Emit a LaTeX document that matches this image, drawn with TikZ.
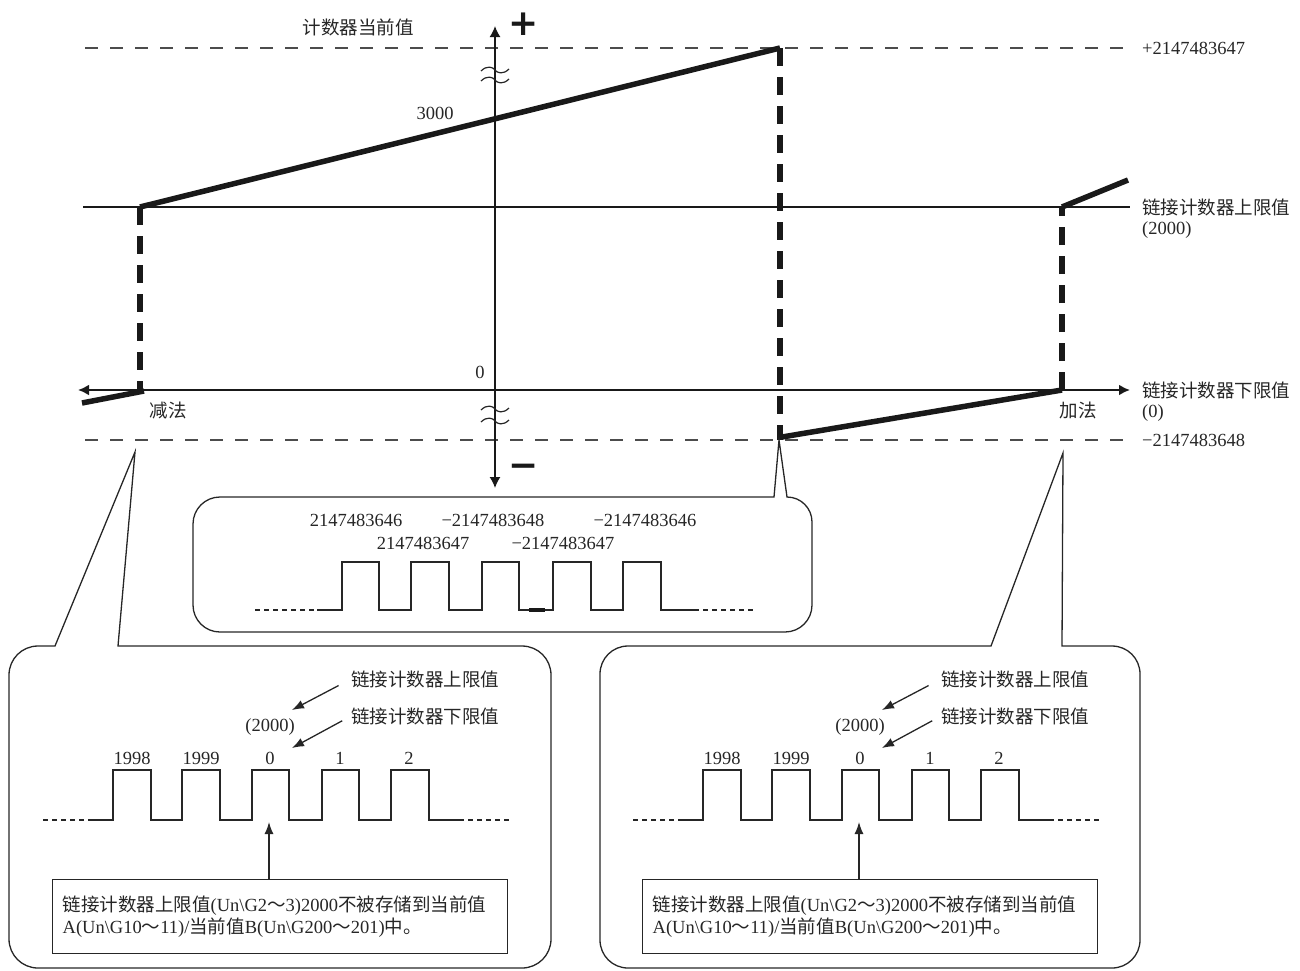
\documentclass[tikz,border=0pt]{standalone}
\usepackage{fontspec}
\setmainfont{Liberation Serif}
\newfontfamily\cjk{Noto Sans CJK SC}
\newfontfamily\djv{DejaVu Sans}
\usetikzlibrary{arrows.meta}
\begin{document}
\begin{tikzpicture}[x=1pt,y=-1pt,
  lbl/.style={inner sep=0pt, font=\fontsize{18.5}{22}\selectfont, text=black!85},
  thinl/.style={line width=1.3pt, draw=black!85},
  axisl/.style={line width=2pt, draw=black!90},
  heavyl/.style={line width=5.5pt, draw=black!90},
  heavyd/.style={line width=5.5pt, draw=black!90, dash pattern=on 18pt off 11pt},
  greyd/.style={line width=1.6pt, draw=black!70, dash pattern=on 13pt off 12pt},
  smalld/.style={line width=1.3pt, draw=black!85, dash pattern=on 5pt off 4pt},
  arr/.style={-{Latex[length=12pt,width=9pt]}},
  bigarr/.style={{Latex[length=11pt,width=11pt]}-{Latex[length=11pt,width=11pt]}},
  txtbox/.style={draw=black!85, line width=1.3pt, anchor=north west, minimum width=455pt,
    minimum height=74pt, text width=435pt, inner xsep=10pt, inner ysep=0pt, align=left,
    font=\fontsize{18.5}{22}\selectfont, text=black!85},
  signs/.style={inner sep=0pt, font=\djv\bfseries\fontsize{36}{36}\selectfont, text=black!90, anchor=base},
]
\useasboundingbox (0,0) rectangle (1300,970);

% ---------- reference dashed lines ----------
\coordinate (tdl) at (85,48);  \coordinate (tdr) at (1130,48);
\coordinate (bdl) at (85,440); \coordinate (bdr) at (1130,440);
\draw[greyd] (tdl) -- (tdr);
\draw[greyd] (bdl) -- (bdr);

% ---------- axes ----------
\coordinate (vtop) at (495,26); \coordinate (vbot) at (495,488);
\draw[line width=1.5pt, draw=black!90, bigarr] (vbot) -- (vtop);
\coordinate (hl) at (78,390); \coordinate (hr) at (1130,390);
\draw[axisl, line width=2.4pt, bigarr] (hl) -- (hr);
\coordinate (ul) at (83,207); \coordinate (ur) at (1130,207);
\draw[axisl] (ul) -- (ur);

% break marks
\foreach \yy in {70,80,409,421}{
  \draw[line width=1.2pt, draw=black!85] (481,\yy+1) .. controls (487,\yy-5) and (493,\yy-3) .. (495,\yy)
     .. controls (497,\yy+3) and (503,\yy+5) .. (509,\yy-1);
}

% ---------- heavy count line ----------
\coordinate (A) at (140,207);
\coordinate (B) at (780,48);
\coordinate (C) at (780,440);
\coordinate (D) at (782,437);
\coordinate (E) at (1062,390);
\coordinate (F) at (1062,207);
\coordinate (G) at (1128,180);
\coordinate (H) at (140,390);
\coordinate (L1) at (144,391);
\coordinate (L2) at (82,403);
\draw[heavyl] (A) -- (B);
\draw[heavyd] (B) -- (C);
\draw[heavyl] (D) -- (E);
\draw[heavyd] (E) -- (F);
\draw[heavyl] (F) -- (G);
\draw[heavyd] (A) -- (H);
\draw[heavyl] (L1) -- (L2);

% ---------- main labels ----------
\node[lbl, anchor=east] (cnt) at (414,27) {\cjk 计数器当前值};
\node[signs] (plus) at (524,35) {+};
\node[signs] (minus) at (524,477) {−};
\node[lbl] (v3000) at (435,113) {3000};
\node[lbl] (vzero) at (480,372) {0};
\node[lbl, anchor=west] (vmax) at (1142,48) {+2147483647};
\node[lbl, anchor=west] (uplim) at (1142,207) {\cjk 链接计数器上限值};
\node[lbl, anchor=west] (uplimv) at (1142,230) {(2000)};
\node[lbl, anchor=west] (lolim) at (1142,390) {\cjk 链接计数器下限值};
\node[lbl, anchor=west] (lolimv) at (1142,413) {(0)};
\node[lbl, anchor=west] (vmin) at (1142,440) {−2147483648};
\node[lbl] (sub) at (168,410) {\cjk 减法};
\node[lbl] (add) at (1078,410) {\cjk 加法};

% ---------- middle callout ----------
\draw[thinl] (774,497) -- (220,497) to[out=180,in=90] (193,524) -- (193,605)
  to[out=-90,in=180] (220,632) -- (785,632) to[out=0,in=-90] (812,605) -- (812,522)
  to[out=90,in=0] (787,497) -- (779,440) -- cycle;
\node[lbl] (m1) at (356,520) {2147483646};
\node[lbl] (m2) at (493,520) {−2147483648};
\node[lbl] (m3) at (645,520) {−2147483646};
\node[lbl] (m4) at (423,543) {2147483647};
\node[lbl] (m5) at (563,543) {−2147483647};
\draw[smalld] (255,610) -- (317,610);
\draw[thinl] (317,610) -- (342,610) -- (342,562) -- (379,562) -- (379,610) -- (411,610)
  -- (411,562) -- (449,562) -- (449,610) -- (482,610) -- (482,562) -- (519,562) -- (519,610)
  -- (553,610) -- (553,562) -- (591,562) -- (591,610) -- (623,610) -- (623,562) -- (661,562)
  -- (661,610) -- (694,610);
\draw[smalld] (694,610) -- (755,610);
\draw[line width=3.5pt, draw=black!90] (529,610) -- (545,610);

% ---------- left callout ----------
\draw[thinl] (55,646) -- (38,646) to[out=180,in=90] (9,675) -- (9,939)
  to[out=-90,in=180] (38,968) -- (522,968) to[out=0,in=-90] (551,939) -- (551,675)
  to[out=90,in=0] (522,646) -- (118,646) -- (135,452) -- cycle;
\node[lbl, anchor=west] (lup) at (351,679) {\cjk 链接计数器上限值};
\node[lbl, anchor=west] (llo) at (351,716) {\cjk 链接计数器下限值};
\coordinate (lupt) at (292,710);
\coordinate (llot) at (292,748);
\draw[thinl, arr, shorten <=14pt] (lup.west) -- (lupt);
\draw[thinl, arr, shorten <=10pt] (llo.west) -- (llot);
\node[lbl] (l2000) at (270,727) {(2000)};
\node[lbl] (la) at (132,758) {1998};
\node[lbl] (lb) at (201,758) {1999};
\node[lbl] (lc) at (270,758) {0};
\node[lbl] (ld) at (340,758) {1};
\node[lbl] (le) at (409,758) {2};
\draw[smalld] (43,820) -- (93,820);
\draw[thinl] (93,820) -- (113,820) -- (113,770) -- (151,770) -- (151,820) -- (182,820)
  -- (182,770) -- (220,770) -- (220,820) -- (252,820) -- (252,770) -- (289,770) -- (289,820)
  -- (322,820) -- (322,770) -- (359,770) -- (359,820) -- (391,820) -- (391,770) -- (429,770)
  -- (429,820) -- (459,820);
\draw[smalld] (459,820) -- (512,820);
\node[txtbox] (lbox) at (52,879) {{\cjk 链接计数器上限值}(Un\textbackslash G2{\cjk ～}3)2000{\cjk 不被存储到当前值}\\A(Un\textbackslash G10{\cjk ～}11)/{\cjk 当前值}B(Un\textbackslash G200{\cjk ～}201){\cjk 中。}};
\coordinate (lupa) at (269,822);
\draw[thinl, arr] (lbox.north -| lupa) -- (lupa);

% ---------- right callout ----------
\draw[thinl] (991,646) -- (628,646) to[out=180,in=90] (600,674) -- (600,940)
  to[out=-90,in=180] (628,968) -- (1112,968) to[out=0,in=-90] (1140,940) -- (1140,674)
  to[out=90,in=0] (1112,646) -- (1062,646) -- (1063,453) -- cycle;
\node[lbl, anchor=west] (rup) at (941,679) {\cjk 链接计数器上限值};
\node[lbl, anchor=west] (rlo) at (941,716) {\cjk 链接计数器下限值};
\coordinate (rupt) at (882,710);
\coordinate (rlot) at (882,748);
\draw[thinl, arr, shorten <=14pt] (rup.west) -- (rupt);
\draw[thinl, arr, shorten <=10pt] (rlo.west) -- (rlot);
\node[lbl] (r2000) at (860,727) {(2000)};
\node[lbl] (ra) at (722,758) {1998};
\node[lbl] (rb) at (791,758) {1999};
\node[lbl] (rc) at (860,758) {0};
\node[lbl] (rd) at (930,758) {1};
\node[lbl] (re) at (999,758) {2};
\draw[smalld] (633,820) -- (683,820);
\draw[thinl] (683,820) -- (703,820) -- (703,770) -- (741,770) -- (741,820) -- (772,820)
  -- (772,770) -- (810,770) -- (810,820) -- (842,820) -- (842,770) -- (879,770) -- (879,820)
  -- (912,820) -- (912,770) -- (949,770) -- (949,820) -- (981,820) -- (981,770) -- (1019,770)
  -- (1019,820) -- (1049,820);
\draw[smalld] (1049,820) -- (1102,820);
\node[txtbox] (rbox) at (642,879) {{\cjk 链接计数器上限值}(Un\textbackslash G2{\cjk ～}3)2000{\cjk 不被存储到当前值}\\A(Un\textbackslash G10{\cjk ～}11)/{\cjk 当前值}B(Un\textbackslash G200{\cjk ～}201){\cjk 中。}};
\coordinate (rupa) at (859,822);
\draw[thinl, arr] (rbox.north -| rupa) -- (rupa);
\end{tikzpicture}
\end{document}
